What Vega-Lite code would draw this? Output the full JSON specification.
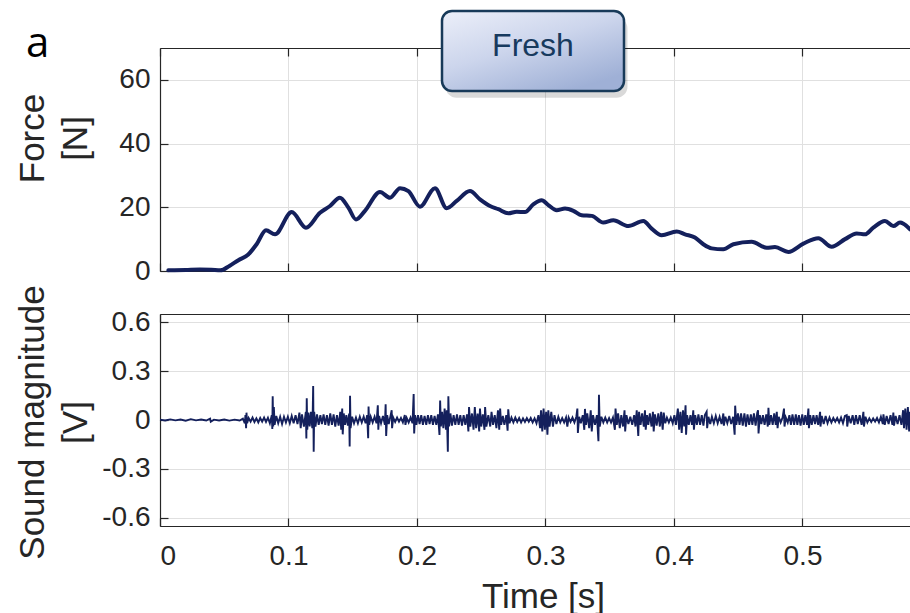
{
  "$schema": "https://vega.github.io/schema/vega-lite/v6.json",
  "padding": {"left": 15, "top": 9, "right": 0, "bottom": 0},
  "background": "white",
  "bounds": "flush",
  "config": {
    "view": {"stroke": null},
    "font": "Liberation Sans",
    "axis": {
      "domain": true, "domainColor": "#262626", "domainWidth": 1.2,
      "ticks": true, "tickColor": "#262626", "tickWidth": 1.2, "tickSize": -8,
      "grid": true, "gridColor": "#e0e0e0", "gridWidth": 1,
      "labelFont": "Liberation Sans", "labelFontSize": 28, "labelColor": "#262626",
      "titleFont": "Liberation Sans", "titleFontSize": 35, "titleFontWeight": "normal", "titleColor": "#262626"
    }
  },
  "datasets": {
    "force": [
      {"t":0.0065,"f":0.2},{"t":0.02,"f":0.35},{"t":0.031,"f":0.5},{"t":0.04,"f":0.4},{"t":0.047,"f":0.2},
      {"t":0.054,"f":1.6},{"t":0.061,"f":3.4},{"t":0.0687,"f":5.2},{"t":0.0752,"f":8.4},{"t":0.0825,"f":12.8},
      {"t":0.0895,"f":11.5},{"t":0.1025,"f":18.5},{"t":0.1136,"f":13.6},{"t":0.1245,"f":18.3},{"t":0.1323,"f":20.4},
      {"t":0.140,"f":23.0},{"t":0.1466,"f":19.9},{"t":0.1525,"f":16.2},{"t":0.1595,"f":18.9},{"t":0.1712,"f":24.8},
      {"t":0.179,"f":23.0},{"t":0.1868,"f":26.0},{"t":0.1933,"f":25.1},{"t":0.2023,"f":20.2},{"t":0.214,"f":26.0},
      {"t":0.2231,"f":19.7},{"t":0.2309,"f":22.0},{"t":0.2412,"f":25.1},{"t":0.249,"f":22.5},{"t":0.2568,"f":20.4},
      {"t":0.2633,"f":19.4},{"t":0.2711,"f":18.1},{"t":0.2776,"f":18.6},{"t":0.284,"f":18.5},{"t":0.2905,"f":20.9},
      {"t":0.297,"f":22.2},{"t":0.3022,"f":20.7},{"t":0.3087,"f":19.1},{"t":0.3152,"f":19.6},{"t":0.3217,"f":18.9},
      {"t":0.3281,"f":17.5},{"t":0.336,"f":17.3},{"t":0.345,"f":15.2},{"t":0.3528,"f":15.9},{"t":0.3645,"f":14.1},
      {"t":0.3761,"f":15.7},{"t":0.3826,"f":13.3},{"t":0.3904,"f":11.2},{"t":0.4021,"f":12.4},{"t":0.4086,"f":11.5},
      {"t":0.4163,"f":10.5},{"t":0.4228,"f":8.4},{"t":0.4293,"f":7.1},{"t":0.4384,"f":6.8},{"t":0.4462,"f":8.4},
      {"t":0.4604,"f":9.2},{"t":0.4721,"f":7.3},{"t":0.4786,"f":7.5},{"t":0.489,"f":6.0},{"t":0.5007,"f":8.6},
      {"t":0.5123,"f":10.3},{"t":0.5227,"f":7.6},{"t":0.5331,"f":10.0},{"t":0.5422,"f":11.8},{"t":0.5486,"f":11.5},
      {"t":0.5551,"f":13.6},{"t":0.5642,"f":15.7},{"t":0.5707,"f":14.1},{"t":0.5759,"f":15.2},{"t":0.5837,"f":13.1}
    ],
    "sound": [
      {"t":0.000,"v":0.002},{"t":0.004,"v":-0.003},{"t":0.008,"v":0.004},{"t":0.012,"v":-0.002},{"t":0.016,"v":0.003},
      {"t":0.020,"v":-0.004},{"t":0.024,"v":0.005},{"t":0.028,"v":-0.002},{"t":0.032,"v":0.003},{"t":0.036,"v":-0.003},
      {"t":0.039,"v":0.008},{"t":0.0395,"v":-0.01},{"t":0.042,"v":0.002},{"t":0.046,"v":-0.003},{"t":0.050,"v":0.003},
      {"t":0.054,"v":-0.004},{"t":0.058,"v":0.002},{"t":0.062,"v":-0.003},
      {"t":0.0645,"v":0.008},{"t":0.0660,"v":-0.02},{"t":0.0665,"v":0.03},{"t":0.0670,"v":-0.05},{"t":0.0673,"v":0.045},
      {"t":0.0678,"v":-0.02},{"t":0.0690,"v":0.012},{"t":0.0705,"v":-0.01},{"t":0.0720,"v":0.015},{"t":0.0735,"v":-0.012},
      {"t":0.0750,"v":0.01},{"t":0.0765,"v":-0.015},{"t":0.0780,"v":0.012},{"t":0.0795,"v":-0.01},{"t":0.0810,"v":0.015},
      {"t":0.0825,"v":-0.012},{"t":0.0840,"v":0.014},{"t":0.0855,"v":-0.02},{"t":0.0870,"v":0.03},{"t":0.0874,"v":-0.055},
      {"t":0.0877,"v":0.145},{"t":0.0881,"v":-0.04},{"t":0.0886,"v":0.08},{"t":0.0892,"v":-0.03},{"t":0.0905,"v":0.025},
      {"t":0.0920,"v":-0.02},{"t":0.0935,"v":0.02},{"t":0.0950,"v":-0.025},{"t":0.0965,"v":0.02},{"t":0.0980,"v":-0.015},
      {"t":0.0995,"v":0.02},{"t":0.1010,"v":-0.02},{"t":0.1025,"v":0.025},{"t":0.1040,"v":-0.02},{"t":0.1055,"v":0.03},
      {"t":0.1070,"v":-0.025},{"t":0.1085,"v":0.045},{"t":0.1095,"v":-0.05},{"t":0.1105,"v":0.035},{"t":0.1120,"v":-0.04},
      {"t":0.1135,"v":0.05},{"t":0.1139,"v":-0.113},{"t":0.1142,"v":0.133},{"t":0.1146,"v":-0.06},{"t":0.1155,"v":0.045},
      {"t":0.1165,"v":-0.04},{"t":0.1175,"v":0.05},{"t":0.1185,"v":-0.05},{"t":0.1189,"v":0.07},{"t":0.1192,"v":0.208},
      {"t":0.1196,"v":-0.194},{"t":0.1200,"v":0.05},{"t":0.1210,"v":-0.04},{"t":0.1222,"v":0.035},{"t":0.1235,"v":-0.03},
      {"t":0.1248,"v":0.03},{"t":0.1260,"v":-0.025},{"t":0.1273,"v":0.035},{"t":0.1286,"v":-0.03},{"t":0.1299,"v":0.03},
      {"t":0.1312,"v":-0.035},{"t":0.1325,"v":0.04},{"t":0.1338,"v":-0.03},{"t":0.1351,"v":0.035},{"t":0.1364,"v":-0.04},
      {"t":0.1377,"v":0.03},{"t":0.1390,"v":-0.035},{"t":0.1403,"v":0.05},{"t":0.1410,"v":-0.06},{"t":0.1418,"v":0.071},
      {"t":0.1422,"v":-0.088},{"t":0.1430,"v":0.04},{"t":0.1440,"v":-0.03},{"t":0.1450,"v":0.03},{"t":0.1462,"v":-0.035},
      {"t":0.1472,"v":0.04},{"t":0.1476,"v":-0.163},{"t":0.1479,"v":0.149},{"t":0.1483,"v":-0.05},{"t":0.1495,"v":0.02},
      {"t":0.1510,"v":-0.02},{"t":0.1525,"v":0.015},{"t":0.1540,"v":-0.02},{"t":0.1555,"v":0.02},{"t":0.1570,"v":-0.015},
      {"t":0.1585,"v":0.02},{"t":0.1600,"v":-0.02},{"t":0.1612,"v":0.03},{"t":0.1620,"v":-0.112},{"t":0.1623,"v":0.082},
      {"t":0.1628,"v":-0.03},{"t":0.1640,"v":0.02},{"t":0.1655,"v":-0.015},{"t":0.1670,"v":0.02},{"t":0.1685,"v":-0.02},
      {"t":0.1695,"v":0.09},{"t":0.1699,"v":-0.06},{"t":0.1705,"v":0.025},{"t":0.1720,"v":-0.02},{"t":0.1735,"v":0.025},
      {"t":0.1750,"v":-0.03},{"t":0.1756,"v":0.096},{"t":0.1760,"v":-0.098},{"t":0.1768,"v":0.03},{"t":0.1780,"v":-0.025},
      {"t":0.1795,"v":0.03},{"t":0.1803,"v":0.06},{"t":0.1806,"v":-0.05},{"t":0.1815,"v":0.015},{"t":0.1830,"v":-0.012},
      {"t":0.1845,"v":0.015},{"t":0.1860,"v":-0.01},{"t":0.1875,"v":0.012},{"t":0.1890,"v":-0.015},{"t":0.1905,"v":0.03},
      {"t":0.1910,"v":-0.03},{"t":0.1920,"v":0.012},{"t":0.1935,"v":-0.015},{"t":0.1950,"v":0.015},{"t":0.1965,"v":-0.02},
      {"t":0.1974,"v":0.159},{"t":0.1978,"v":-0.082},{"t":0.1985,"v":0.03},{"t":0.1995,"v":-0.03},{"t":0.2008,"v":0.03},
      {"t":0.2020,"v":-0.025},{"t":0.2033,"v":0.03},{"t":0.2046,"v":-0.03},{"t":0.2059,"v":0.025},{"t":0.2072,"v":-0.03},
      {"t":0.2085,"v":0.03},{"t":0.2098,"v":-0.025},{"t":0.2111,"v":0.03},{"t":0.2124,"v":-0.03},{"t":0.2137,"v":0.025},
      {"t":0.2150,"v":-0.03},{"t":0.2163,"v":0.035},{"t":0.2175,"v":-0.092},{"t":0.2180,"v":0.12},{"t":0.2186,"v":-0.04},
      {"t":0.2195,"v":0.05},{"t":0.2205,"v":-0.05},{"t":0.2215,"v":0.07},{"t":0.2225,"v":-0.06},{"t":0.2232,"v":0.06},
      {"t":0.2240,"v":-0.194},{"t":0.2244,"v":0.146},{"t":0.2250,"v":-0.04},{"t":0.2260,"v":0.04},{"t":0.2272,"v":-0.035},
      {"t":0.2285,"v":0.03},{"t":0.2298,"v":-0.03},{"t":0.2311,"v":0.035},{"t":0.2324,"v":-0.03},{"t":0.2337,"v":0.03},
      {"t":0.2350,"v":-0.035},{"t":0.2363,"v":0.03},{"t":0.2376,"v":-0.03},{"t":0.2389,"v":0.035},{"t":0.2400,"v":-0.07},
      {"t":0.2405,"v":0.08},{"t":0.2415,"v":-0.04},{"t":0.2428,"v":0.04},{"t":0.2440,"v":-0.06},{"t":0.2450,"v":0.08},
      {"t":0.2460,"v":-0.05},{"t":0.2472,"v":0.04},{"t":0.2484,"v":-0.07},{"t":0.2490,"v":0.07},{"t":0.2500,"v":-0.04},
      {"t":0.2512,"v":0.035},{"t":0.2525,"v":-0.06},{"t":0.2530,"v":0.08},{"t":0.2540,"v":-0.04},{"t":0.2555,"v":0.03},
      {"t":0.2570,"v":-0.04},{"t":0.2580,"v":0.05},{"t":0.2592,"v":-0.03},{"t":0.2605,"v":0.03},{"t":0.2618,"v":-0.05},
      {"t":0.2630,"v":0.06},{"t":0.2640,"v":-0.06},{"t":0.2647,"v":0.07},{"t":0.2655,"v":-0.03},{"t":0.2668,"v":0.025},
      {"t":0.2680,"v":-0.03},{"t":0.2695,"v":0.03},{"t":0.2705,"v":-0.065},{"t":0.2710,"v":0.065},{"t":0.2720,"v":-0.02},
      {"t":0.2735,"v":0.015},{"t":0.2750,"v":-0.015},{"t":0.2765,"v":0.015},{"t":0.2780,"v":-0.012},{"t":0.2795,"v":0.012},
      {"t":0.2810,"v":-0.015},{"t":0.2825,"v":0.01},{"t":0.2840,"v":-0.012},{"t":0.2855,"v":0.012},{"t":0.2870,"v":-0.01},
      {"t":0.2885,"v":0.012},{"t":0.2900,"v":-0.015},{"t":0.2915,"v":0.01},{"t":0.2930,"v":-0.02},{"t":0.2945,"v":0.03},
      {"t":0.2958,"v":-0.05},{"t":0.2965,"v":0.06},{"t":0.2975,"v":-0.07},{"t":0.2985,"v":0.07},{"t":0.2995,"v":-0.06},
      {"t":0.3005,"v":0.05},{"t":0.3015,"v":-0.09},{"t":0.3022,"v":0.06},{"t":0.3032,"v":-0.04},{"t":0.3045,"v":0.05},
      {"t":0.3058,"v":-0.04},{"t":0.3070,"v":0.03},{"t":0.3085,"v":-0.025},{"t":0.3100,"v":0.02},{"t":0.3115,"v":-0.015},
      {"t":0.3130,"v":0.012},{"t":0.3145,"v":-0.015},{"t":0.3160,"v":0.015},{"t":0.3170,"v":-0.04},{"t":0.3180,"v":0.015},
      {"t":0.3195,"v":-0.012},{"t":0.3210,"v":0.015},{"t":0.3225,"v":-0.015},{"t":0.3240,"v":0.02},{"t":0.3248,"v":0.07},
      {"t":0.3252,"v":-0.08},{"t":0.3262,"v":0.02},{"t":0.3275,"v":-0.02},{"t":0.3290,"v":0.03},{"t":0.3302,"v":-0.06},
      {"t":0.3307,"v":0.068},{"t":0.3315,"v":-0.03},{"t":0.3325,"v":0.04},{"t":0.3340,"v":-0.05},{"t":0.3352,"v":0.06},
      {"t":0.3360,"v":-0.07},{"t":0.3370,"v":0.03},{"t":0.3385,"v":-0.03},{"t":0.3400,"v":0.03},{"t":0.3412,"v":-0.13},
      {"t":0.3416,"v":0.155},{"t":0.3422,"v":-0.04},{"t":0.3435,"v":0.02},{"t":0.3450,"v":-0.015},{"t":0.3465,"v":0.015},
      {"t":0.3480,"v":-0.015},{"t":0.3495,"v":0.012},{"t":0.3510,"v":-0.015},{"t":0.3525,"v":0.015},{"t":0.3540,"v":-0.06},
      {"t":0.3545,"v":0.07},{"t":0.3555,"v":-0.03},{"t":0.3565,"v":0.04},{"t":0.3578,"v":-0.05},{"t":0.3590,"v":0.03},
      {"t":0.3603,"v":-0.04},{"t":0.3615,"v":0.06},{"t":0.3620,"v":-0.07},{"t":0.3630,"v":0.03},{"t":0.3645,"v":-0.025},
      {"t":0.3660,"v":0.02},{"t":0.3675,"v":-0.03},{"t":0.3690,"v":0.03},{"t":0.3700,"v":-0.04},{"t":0.3710,"v":0.06},
      {"t":0.3722,"v":-0.098},{"t":0.3728,"v":0.05},{"t":0.3740,"v":-0.03},{"t":0.3752,"v":0.04},{"t":0.3765,"v":-0.04},
      {"t":0.3774,"v":0.06},{"t":0.3780,"v":-0.06},{"t":0.3790,"v":0.03},{"t":0.3800,"v":-0.03},{"t":0.3812,"v":0.04},
      {"t":0.3825,"v":-0.04},{"t":0.3836,"v":0.05},{"t":0.3842,"v":-0.07},{"t":0.3852,"v":0.035},{"t":0.3865,"v":-0.035},
      {"t":0.3878,"v":0.04},{"t":0.3890,"v":-0.04},{"t":0.3900,"v":0.05},{"t":0.3912,"v":-0.06},{"t":0.3920,"v":0.045},
      {"t":0.3932,"v":-0.02},{"t":0.3945,"v":0.015},{"t":0.3960,"v":-0.015},{"t":0.3975,"v":0.015},{"t":0.3990,"v":-0.02},
      {"t":0.4003,"v":0.03},{"t":0.4015,"v":-0.03},{"t":0.4030,"v":0.07},{"t":0.4040,"v":-0.06},{"t":0.4050,"v":0.05},
      {"t":0.4060,"v":-0.08},{"t":0.4070,"v":0.06},{"t":0.4080,"v":-0.04},{"t":0.4090,"v":0.09},{"t":0.4094,"v":-0.09},
      {"t":0.4102,"v":0.03},{"t":0.4115,"v":-0.03},{"t":0.4128,"v":0.03},{"t":0.4140,"v":-0.03},{"t":0.4150,"v":0.06},
      {"t":0.4155,"v":-0.06},{"t":0.4165,"v":0.03},{"t":0.4178,"v":-0.03},{"t":0.4190,"v":0.035},{"t":0.4203,"v":-0.03},
      {"t":0.4216,"v":0.03},{"t":0.4229,"v":-0.035},{"t":0.4240,"v":0.03},{"t":0.4254,"v":0.05},{"t":0.4258,"v":-0.05},
      {"t":0.4268,"v":0.02},{"t":0.4282,"v":-0.025},{"t":0.4295,"v":0.02},{"t":0.4310,"v":-0.02},{"t":0.4325,"v":0.025},
      {"t":0.4340,"v":-0.02},{"t":0.4355,"v":0.02},{"t":0.4370,"v":-0.025},{"t":0.4384,"v":0.04},{"t":0.4388,"v":-0.035},
      {"t":0.4400,"v":0.02},{"t":0.4415,"v":-0.02},{"t":0.4430,"v":0.025},{"t":0.4445,"v":-0.025},{"t":0.4460,"v":0.02},
      {"t":0.4472,"v":-0.09},{"t":0.4476,"v":0.088},{"t":0.4485,"v":-0.03},{"t":0.4498,"v":0.04},{"t":0.4510,"v":-0.03},
      {"t":0.4522,"v":0.04},{"t":0.4535,"v":-0.035},{"t":0.4548,"v":0.04},{"t":0.4560,"v":-0.04},{"t":0.4572,"v":0.035},
      {"t":0.4585,"v":-0.03},{"t":0.4598,"v":0.035},{"t":0.4610,"v":-0.03},{"t":0.4622,"v":0.04},{"t":0.4635,"v":-0.035},
      {"t":0.4648,"v":0.045},{"t":0.4654,"v":0.06},{"t":0.4658,"v":-0.082},{"t":0.4668,"v":0.03},{"t":0.4680,"v":-0.025},
      {"t":0.4692,"v":0.03},{"t":0.4705,"v":-0.03},{"t":0.4718,"v":0.035},{"t":0.4730,"v":-0.04},{"t":0.4735,"v":0.075},
      {"t":0.4742,"v":-0.03},{"t":0.4755,"v":0.03},{"t":0.4768,"v":-0.03},{"t":0.4780,"v":0.04},{"t":0.4792,"v":-0.03},
      {"t":0.4800,"v":0.05},{"t":0.4806,"v":-0.05},{"t":0.4815,"v":0.02},{"t":0.4830,"v":-0.015},{"t":0.4845,"v":0.015},
      {"t":0.4856,"v":0.07},{"t":0.4860,"v":-0.04},{"t":0.4870,"v":0.015},{"t":0.4885,"v":-0.015},{"t":0.4898,"v":0.03},
      {"t":0.4910,"v":-0.03},{"t":0.4922,"v":0.035},{"t":0.4935,"v":-0.03},{"t":0.4948,"v":0.035},{"t":0.4960,"v":-0.03},
      {"t":0.4972,"v":0.03},{"t":0.4985,"v":-0.035},{"t":0.4998,"v":0.035},{"t":0.5010,"v":-0.03},{"t":0.5022,"v":0.03},
      {"t":0.5035,"v":-0.03},{"t":0.5046,"v":0.07},{"t":0.5050,"v":-0.05},{"t":0.5060,"v":0.03},{"t":0.5072,"v":-0.03},
      {"t":0.5085,"v":0.03},{"t":0.5098,"v":-0.025},{"t":0.5110,"v":0.03},{"t":0.5122,"v":-0.03},{"t":0.5137,"v":0.05},
      {"t":0.5140,"v":-0.04},{"t":0.5150,"v":0.025},{"t":0.5165,"v":-0.025},{"t":0.5180,"v":0.025},{"t":0.5195,"v":-0.02},
      {"t":0.5210,"v":0.015},{"t":0.5225,"v":-0.015},{"t":0.5240,"v":0.012},{"t":0.5255,"v":-0.01},{"t":0.5270,"v":0.012},
      {"t":0.5285,"v":-0.015},{"t":0.5300,"v":0.015},{"t":0.5315,"v":-0.02},{"t":0.5330,"v":0.025},{"t":0.5344,"v":0.03},
      {"t":0.5348,"v":-0.04},{"t":0.5360,"v":0.025},{"t":0.5375,"v":-0.02},{"t":0.5390,"v":0.03},{"t":0.5403,"v":-0.03},
      {"t":0.5416,"v":0.03},{"t":0.5430,"v":-0.025},{"t":0.5445,"v":0.03},{"t":0.5460,"v":-0.03},{"t":0.5474,"v":0.05},
      {"t":0.5478,"v":-0.04},{"t":0.5490,"v":0.02},{"t":0.5505,"v":-0.015},{"t":0.5520,"v":0.01},{"t":0.5535,"v":-0.012},
      {"t":0.5550,"v":0.01},{"t":0.5565,"v":-0.01},{"t":0.5580,"v":0.012},{"t":0.5595,"v":-0.015},{"t":0.5610,"v":0.02},
      {"t":0.5625,"v":-0.025},{"t":0.5630,"v":0.035},{"t":0.5640,"v":-0.03},{"t":0.5655,"v":0.025},{"t":0.5670,"v":-0.025},
      {"t":0.5685,"v":0.03},{"t":0.5700,"v":-0.03},{"t":0.5707,"v":0.045},{"t":0.5712,"v":-0.035},{"t":0.5725,"v":0.025},
      {"t":0.5740,"v":-0.025},{"t":0.5755,"v":0.03},{"t":0.5770,"v":-0.03},{"t":0.5783,"v":0.06},{"t":0.5790,"v":-0.05},
      {"t":0.5800,"v":0.07},{"t":0.5810,"v":-0.06},{"t":0.5820,"v":0.08},{"t":0.5830,"v":-0.07},{"t":0.5837,"v":0.05}
    ]
  },
  "spacing": 43,
  "resolve": {"scale": {"x": "independent", "y": "independent"}},
  "vconcat": [
    {
      "width": 750,
      "height": 223,
      "resolve": {"axis": {"x": "independent"}},
      "layer": [
        {
          "data": {"name": "force"},
          "mark": {"type": "line", "color": "#14205c", "strokeWidth": 4, "interpolate": "monotone", "strokeCap": "round"},
          "encoding": {
            "x": {"field": "t", "type": "quantitative",
                  "scale": {"domain": [0, 0.58366], "nice": false, "zero": false},
                  "axis": {"orient": "bottom", "values": [0, 0.1, 0.2, 0.3, 0.4, 0.5], "labels": false, "title": null}},
            "y": {"field": "f", "type": "quantitative",
                  "scale": {"domain": [0, 70], "nice": false},
                  "axis": {"values": [0, 20, 40, 60], "format": "d", "labelPadding": 18,
                           "title": ["Force", "[N]"], "titleLineHeight": 43, "titleAngle": -90,
                           "titleAlign": "center", "titleBaseline": "bottom", "titleX": -110, "titleY": 90}}
          }
        },
        {
          "data": {"name": "force"},
          "mark": {"type": "point", "opacity": 0},
          "encoding": {
            "x": {"field": "t", "type": "quantitative",
                  "axis": {"orient": "top", "values": [0, 0.1, 0.2, 0.3, 0.4, 0.5], "labels": false, "grid": false, "title": null}},
            "y": {"field": "f", "type": "quantitative"}
          }
        },
        {
          "data": {"values": [{}]},
          "mark": {"type": "rect", "color": "#000000", "opacity": 0.15, "cornerRadius": 11},
          "encoding": {
            "x": {"datum": 0.2222, "type": "quantitative", "axis": null},
            "x2": {"datum": 0.3638},
            "y": {"datum": 79.6, "type": "quantitative"},
            "y2": {"datum": 54.4}
          }
        },
        {
          "data": {"values": [{}]},
          "mark": {"type": "rect", "cornerRadius": 10, "stroke": "#183a59", "strokeWidth": 2.5,
                   "fill": {"gradient": "linear", "x1": 0, "y1": 0, "x2": 0.7, "y2": 1,
                            "stops": [{"offset": 0, "color": "#eceff9"}, {"offset": 0.5, "color": "#ccd5ec"}, {"offset": 1, "color": "#9fb0d6"}]}},
          "encoding": {
            "x": {"datum": 0.21946, "type": "quantitative", "axis": null},
            "x2": {"datum": 0.36109},
            "y": {"datum": 81.6, "type": "quantitative"},
            "y2": {"datum": 56.5}
          }
        },
        {
          "data": {"values": [{}]},
          "mark": {"type": "text", "text": "Fresh", "font": "Liberation Sans", "fontSize": 32, "color": "#173a5e",
                   "align": "center", "baseline": "alphabetic"},
          "encoding": {
            "x": {"datum": 0.29027, "type": "quantitative", "axis": null},
            "y": {"datum": 67.5, "type": "quantitative"}
          }
        },
        {
          "data": {"values": [{}]},
          "mark": {"type": "text", "text": "a", "font": "Open Sans", "fontSize": 42, "color": "#000000",
                   "align": "left", "baseline": "alphabetic"},
          "encoding": {
            "x": {"datum": -0.1043, "type": "quantitative", "axis": null},
            "y": {"datum": 67.2, "type": "quantitative"}
          }
        }
      ]
    },
    {
      "width": 750,
      "height": 212,
      "resolve": {"axis": {"x": "independent"}},
      "layer": [
        {
          "data": {"name": "sound"},
          "mark": {"type": "line", "color": "#14205c", "strokeWidth": 1.9},
          "encoding": {
            "x": {"field": "t", "type": "quantitative",
                  "scale": {"domain": [0, 0.58366], "nice": false, "zero": false},
                  "axis": {"orient": "bottom", "values": [0, 0.1, 0.2, 0.3, 0.4, 0.5], "labelPadding": 24,
                           "labelExpr": "datum.value === 0 ? '0' : format(datum.value, '.1f')",
                           "title": "Time [s]", "titleBaseline": "alphabetic", "titleAlign": "center", "titleX": 383, "titleY": 81}},
            "y": {"field": "v", "type": "quantitative",
                  "scale": {"domain": [-0.65, 0.65], "nice": false, "zero": false},
                  "axis": {"values": [-0.6, -0.3, 0, 0.3, 0.6], "labelPadding": 18,
                           "labelExpr": "datum.value === 0 ? '0' : (datum.value < 0 ? '-' : '') + format(abs(datum.value), '.1f')",
                           "title": ["Sound magnitude", "[V]"], "titleLineHeight": 43, "titleAngle": -90,
                           "titleAlign": "center", "titleBaseline": "bottom", "titleX": -110, "titleY": 108}}
          }
        },
        {
          "data": {"name": "sound"},
          "mark": {"type": "point", "opacity": 0},
          "encoding": {
            "x": {"field": "t", "type": "quantitative",
                  "axis": {"orient": "top", "values": [0, 0.1, 0.2, 0.3, 0.4, 0.5], "labels": false, "grid": false, "title": null}},
            "y": {"field": "v", "type": "quantitative"}
          }
        }
      ]
    }
  ]
}
